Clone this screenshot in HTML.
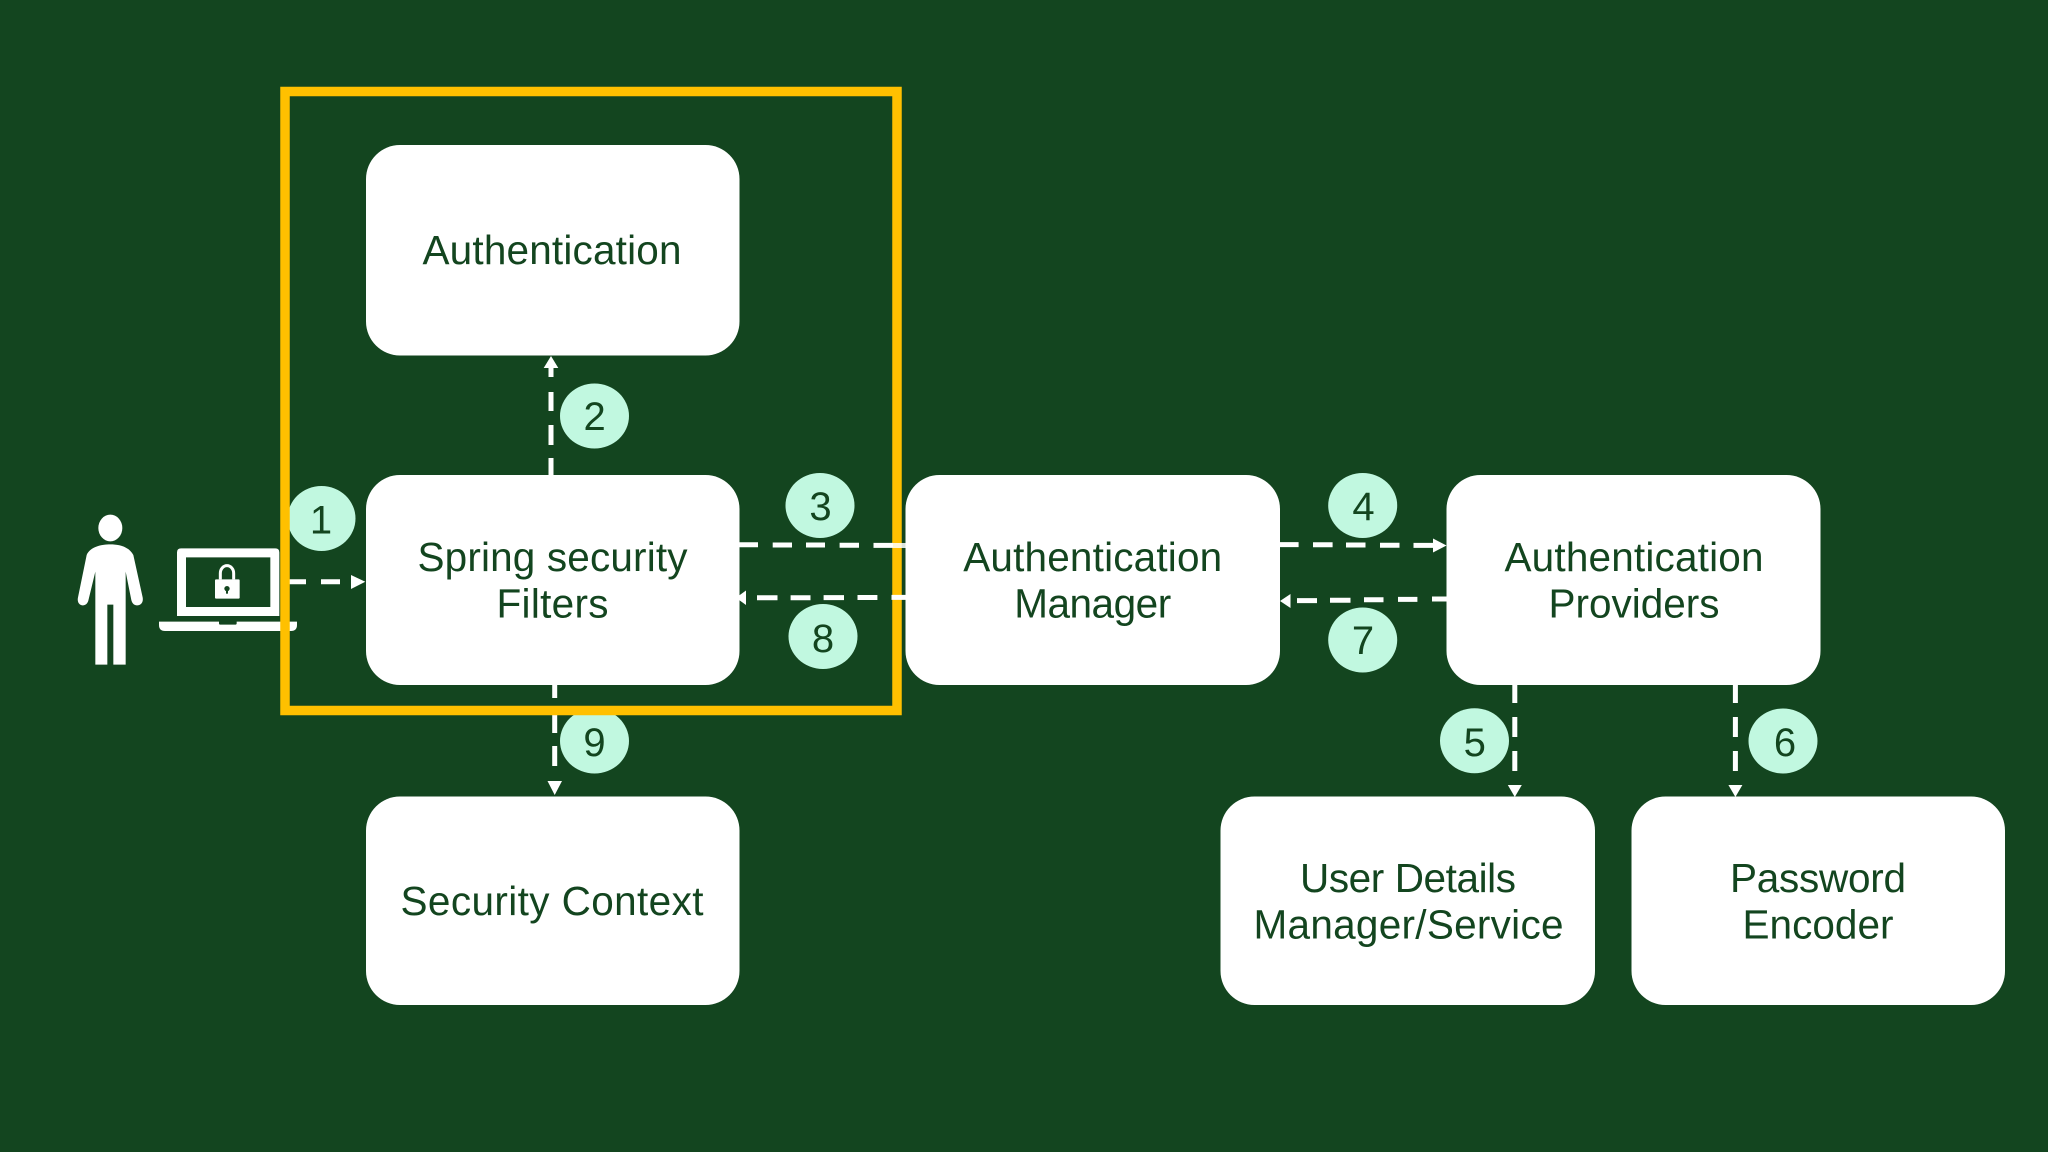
<!DOCTYPE html>
<html><head><meta charset="utf-8"><style>
html,body{margin:0;padding:0;background:#13451f}
svg{display:block}
.t{font-family:"Liberation Sans",Arial,sans-serif;font-size:40.5px;fill:#13451f;text-anchor:middle}
.n{font-family:"Liberation Sans",Arial,sans-serif;font-size:40px;fill:#13451f;text-anchor:middle}
.a{stroke:#fff;stroke-width:5;fill:none}
.h{fill:#fff}
.b{fill:#c1f8e0}
</style></head><body>
<svg width="2048" height="1152" viewBox="0 0 2048 1152" xmlns="http://www.w3.org/2000/svg">
<rect width="2048" height="1152" fill="#13451f"/>

<!-- person + laptop -->
<g transform="translate(50 460) scale(.33333)" fill="#fff">
<ellipse cx="181" cy="204" rx="36" ry="40"/>
<path d="M181 253C205 253 235 258 250 285L278 412C281 430 270 437 260 436C250 435 246 428 244 420L227 335V614H190V434H172V614H136V335L115 422C112 432 105 437 97 436C87 435 81 425 84 412L110 285C120 260 155 253 181 253Z"/>
<path fill-rule="evenodd" d="M393 265H676Q688 265 688 277V468H381V277Q381 265 393 265ZM408 292V441H661V292Z"/>
<path d="M327 485H507V490Q507 494 512 494H555Q560 494 560 490V485H741V495Q741 513 723 513H345Q327 513 327 495Z"/>
<path d="M495 361Q495 358 498 358H566Q569 358 569 361V413Q569 416 566 416H498Q495 416 495 413Z"/>
<path d="M511 358V340A20 23 0 0 1 551 340V358" fill="none" stroke="#fff" stroke-width="9"/>
<circle cx="531" cy="386" r="8" fill="#13451f"/>
<rect x="528" y="388" width="6" height="13" fill="#13451f"/>
</g>

<!-- boxes -->
<g fill="#fff">
<rect x="366" y="145" width="373.5" height="210.5" rx="34"/>
<rect x="366" y="475" width="373.5" height="210" rx="34"/>
<rect x="905.5" y="475" width="374.5" height="210" rx="34"/>
<rect x="1446.5" y="475" width="374" height="210" rx="34"/>
<rect x="366" y="796.5" width="373.5" height="208.5" rx="34"/>
<rect x="1220.5" y="796.5" width="374.5" height="208.5" rx="34"/>
<rect x="1631.5" y="796.5" width="373.5" height="208.5" rx="34"/>
</g>

<!-- badges -->
<g class="b">
<ellipse cx="321.5" cy="518.5" rx="34" ry="32.5"/>
<ellipse cx="594.5" cy="416" rx="34.5" ry="32.5"/>
<ellipse cx="820" cy="505.5" rx="34.5" ry="32.5"/>
<ellipse cx="823" cy="636.5" rx="34.5" ry="32.5"/>
<ellipse cx="1362.7" cy="505.5" rx="34.5" ry="32.5"/>
<ellipse cx="1362.7" cy="640" rx="34.5" ry="32.5"/>
<ellipse cx="1474.5" cy="740.7" rx="34.5" ry="32.5"/>
<ellipse cx="1783" cy="741" rx="34.5" ry="32.5"/>
<ellipse cx="594.5" cy="741" rx="34.5" ry="32.5"/>
</g>

<!-- connectors below the frame -->
<g class="a">
<path d="M289 581.7H306M321 581.7H340"/>
<path d="M551 368V377M551 392V411M551 425V445M551 458V475"/>
<path d="M554.7 685V698M554.7 715V733M554.7 746V766"/>
<path d="M1514.8 685V703M1514.8 717V737M1514.8 751V771"/>
<path d="M1735.4 685V703M1735.4 717V737M1735.4 751V771"/>
<path d="M1280 544.6H1298.6M1313 544.8H1332.6M1346 545H1365.5M1380 545.2H1399.5M1413.5 545.4H1436"/>
<path d="M1446.5 599H1432M1417.4 599.4H1398M1383.5 599.8H1364M1350.5 600.2H1330M1317 600.6H1297"/>
</g>
<g class="h">
<path d="M365.3 581.7L351 575V589Z"/>
<path d="M551 356L543.7 368H558.3Z"/>
<path d="M554.7 795L547.5 781H562Z"/>
<path d="M1514.8 797L1507.8 785H1521.8Z"/>
<path d="M1735.4 797L1728.4 785H1742.4Z"/>
<path d="M1446.5 545.5L1433 538.5V552.5Z"/>
<path d="M1280 601L1290.5 594V608Z"/>
<path d="M736 597.7L746 590.5V605Z"/>
</g>

<!-- frame -->
<rect x="285" y="91.5" width="612" height="619" fill="none" stroke="#ffc000" stroke-width="9.5"/>

<!-- connectors above the frame -->
<g class="a">
<path d="M739 544.8H758M772.7 545H792M806 545H825M839.6 545.2H859M873.5 545.4H893"/>
<path d="M757 597.8H777.5M790.6 597.7H810.5M823.6 597.6H844M857.5 597.5H877.4M891.5 597.4H906"/>
<path d="M893 545.5H906" stroke-opacity=".85"/>
</g>

<!-- labels -->
<text class="t" x="552" y="264" textLength="259">Authentication</text>
<text class="t" x="552.5" y="571" textLength="270">Spring security</text>
<text class="t" x="552.5" y="617.7" textLength="112">Filters</text>
<text class="t" x="1092.7" y="571" textLength="259">Authentication</text>
<text class="t" x="1092.7" y="617.7" textLength="157">Manager</text>
<text class="t" x="1634" y="571" textLength="259">Authentication</text>
<text class="t" x="1634" y="617.7" textLength="171">Providers</text>
<text class="t" x="552" y="915" textLength="303">Security Context</text>
<text class="t" x="1408" y="892" textLength="216">User Details</text>
<text class="t" x="1408.5" y="938.7" textLength="310">Manager/Service</text>
<text class="t" x="1818" y="892" textLength="176">Password</text>
<text class="t" x="1818" y="938.7" textLength="151">Encoder</text>

<text class="n" x="321" y="533.3">1</text>
<text class="n" x="594.6" y="430">2</text>
<text class="n" x="820.5" y="520">3</text>
<text class="n" x="1363.5" y="520">4</text>
<text class="n" x="1474.7" y="756">5</text>
<text class="n" x="1785" y="756">6</text>
<text class="n" x="1363" y="654">7</text>
<text class="n" x="823" y="652">8</text>
<text class="n" x="594.5" y="756">9</text>
</svg>
</body></html>
